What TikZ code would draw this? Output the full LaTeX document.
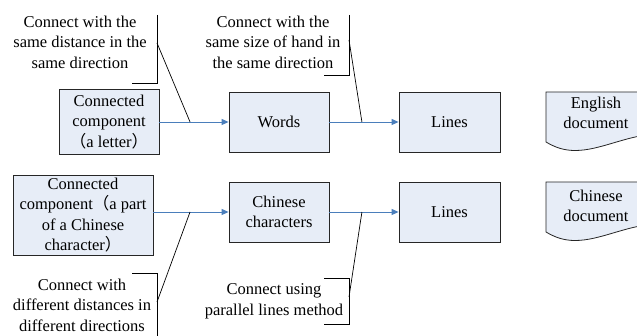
\documentclass[tikz,border=0pt]{standalone}
\usepackage{fontspec}
\setmainfont{Liberation Serif}
\newfontfamily\cjk{Noto Sans CJK SC}
\usetikzlibrary{arrows.meta, positioning, calc}
\definecolor{boxfill}{HTML}{E7EDF7}
\definecolor{flowblue}{HTML}{4A7EBB}
\definecolor{edgegray}{HTML}{262626}
\newcommand{\fwl}{{\cjk （}}
\newcommand{\fwr}{{\cjk ）}}

\begin{document}
\begin{tikzpicture}[x=1pt, y=-1pt,
  font=\fontsize{16.5}{20.5}\selectfont,
  procbox/.style={draw=edgegray, line width=0.8pt, fill=boxfill, align=center, inner sep=2pt},
  docshape/.style={draw=edgegray, line width=0.8pt, fill=boxfill},
  flow/.style={flowblue, line width=0.9pt, -{Triangle[length=7pt, width=6pt]}},
  note/.style={align=center, inner sep=0pt},
  leader/.style={black, line width=0.7pt}]

\useasboundingbox (0,0) rectangle (637,336);

% Top row: English
\node[procbox, minimum width=100pt, minimum height=65pt] (letter) at (109,122)
  {Connected\\component\\\fwl a letter\fwr};
\node[procbox, minimum width=100pt, minimum height=60pt] (words) at (279,122) {Words};
\node[procbox, minimum width=101pt, minimum height=60pt] (lines1) at (449.5,122) {Lines};

% Bottom row: Chinese
\node[procbox, minimum width=140pt, minimum height=80pt] (part) at (83,215)
  {Connected\\component\fwl a part\\of a Chinese\\character\fwr};
\node[procbox, minimum width=100pt, minimum height=60pt] (chars) at (279,212) {Chinese\\characters};
\node[procbox, minimum width=101pt, minimum height=60pt] (lines2) at (449.5,212) {Lines};

% Document shapes (cut at the right edge)
\foreach \dy in {0,90} {
  \draw[docshape] (546,92+\dy) -- (655,92+\dy) -- (655,134+\dy)
    .. controls (625,136+\dy) and (600,150.5+\dy) .. (575,150.5+\dy)
    .. controls (565,150.5+\dy) and (556,148+\dy) .. (546,142+\dy) -- cycle;
}
\node[note] (engdoc) at (596,113) {English\\document};
\node[note] (chidoc) at (596,206) {Chinese\\document};

% Flow arrows
\draw[flow] (letter.east) -- (words.west);
\draw[flow] (words.east) -- (lines1.west);
\draw[flow] (part.east |- chars.west) -- (chars.west);
\draw[flow] (chars.east) -- (lines2.west);

% Points where the notes meet the arrows
\coordinate (hit1) at ($(letter.east)!0.443!(words.west)$);
\coordinate (hit2) at ($(words.east)!0.47!(lines1.west)$);
\coordinate (hit3) at ($(part.east |- chars.west)!0.487!(chars.west)$);
\coordinate (hit4) at ($(chars.east)!0.47!(lines2.west)$);

% Notes with brackets
\node[note] (samedist) at (80,42) {Connect with the\\same distance in the\\same direction};
\draw[leader] (157,15) -- (157,83) -- (132,83);
\coordinate (tag1) at (157,43);
\draw[leader] (tag1) -- (hit1);

\node[note] (samehand) at (273,42) {Connect with the\\same size of hand in\\the same direction};
\draw[leader] (349,15) -- (349,75) -- (324,75);
\coordinate (tag2) at (349,40);
\draw[leader] (tag2) -- (hit2);

\node[note] (diffdist) at (82,305) {Connect with\\different distances in\\different directions};
\draw[leader] (132,273) -- (157,273) -- (157,336);
\coordinate (tag3) at (157,302);
\draw[leader] (tag3) -- (hit3);

\node[note] (parallel) at (274,301.5) {Connect using\\parallel lines method};
\draw[leader] (324,278) -- (349,278) -- (349,324) -- (324,324);
\coordinate (tag4) at (349,297);
\draw[leader] (tag4) -- (hit4);

\end{tikzpicture}
\end{document}
